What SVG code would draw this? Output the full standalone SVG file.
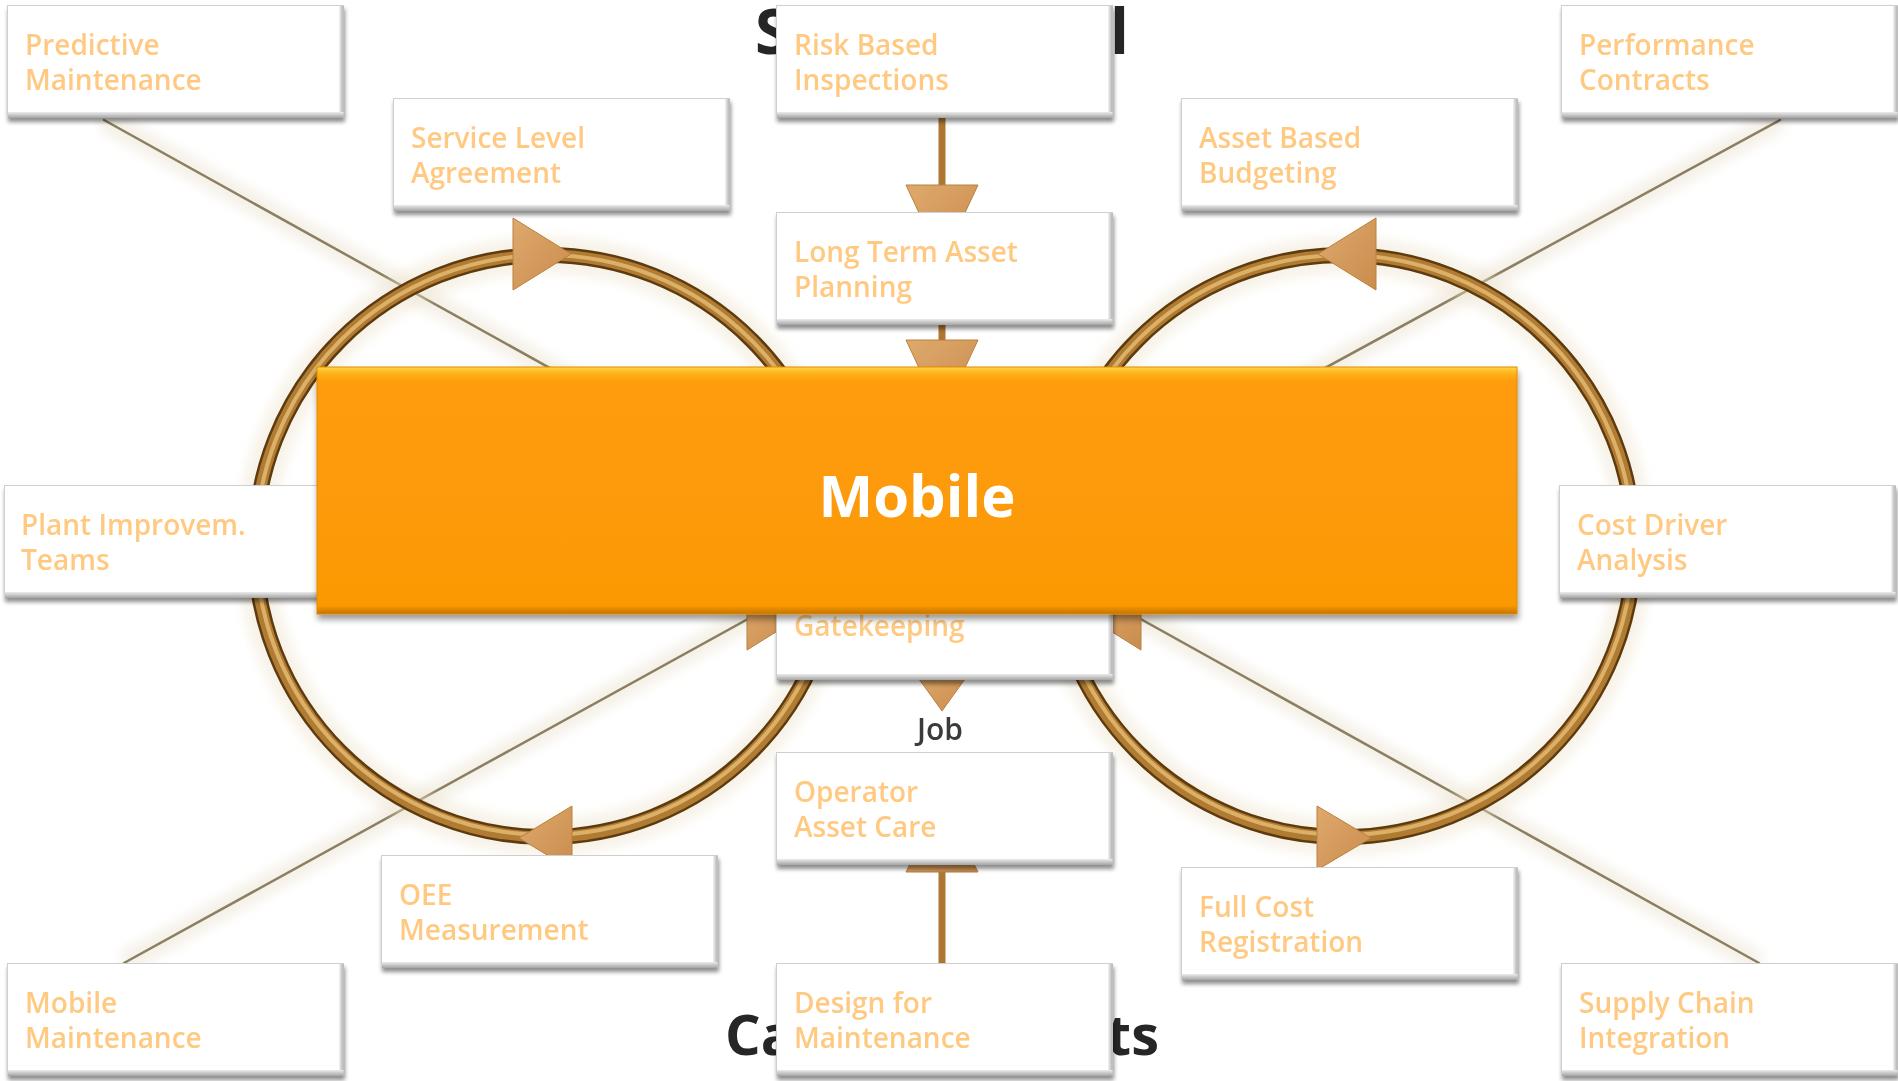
<svg xmlns="http://www.w3.org/2000/svg" width="1898" height="1081" viewBox="0 0 1898 1081">
  <defs>
    <style>
      .bg-title { font-family: "Open Sans", "DejaVu Sans", sans-serif; font-weight: 700; fill: #262626; }
      .card { fill: #ffffff; stroke: #cfcfcf; stroke-width: 1; }
      .card-foot { fill: url(#footGrad); }
      .card-side { fill: url(#sideGrad); }
      .label { font-family: "Open Sans", "DejaVu Sans", sans-serif; font-weight: 600; font-size: 28px; fill: #ffc982; }
      .diag { stroke: #8a7f5e; stroke-width: 2.5; fill: none; stroke-linecap: round; }
      .diag-haze { stroke: #ece4d2; stroke-width: 22; fill: none; opacity: 0.5; }
      .ring-glow { fill: none; stroke: #eee2cc; stroke-width: 36; opacity: 0.45; }
      .ring-outer { fill: none; stroke: #5e3b0e; stroke-width: 16; }
      .ring-mid { fill: none; stroke: #b07c34; stroke-width: 11; }
      .ring-hi { fill: none; stroke: #ddb068; stroke-width: 4; }
      .head { fill: url(#headGrad); stroke: #b9803f; stroke-width: 1; }
      .stem { stroke: #ad7732; stroke-width: 7; fill: none; }
      .job { font-family: "Open Sans", "DejaVu Sans", sans-serif; font-weight: 600; font-size: 30px; fill: #3b3b3b; }
      .hub-label { font-family: "Open Sans", "DejaVu Sans", sans-serif; font-weight: 700; font-size: 58px; fill: #ffffff; }
    </style>
    <linearGradient id="footGrad" x1="0" y1="0" x2="0" y2="1">
      <stop offset="0" stop-color="#ececec"/>
      <stop offset="1" stop-color="#a4a4a4"/>
    </linearGradient>
    <linearGradient id="sideGrad" x1="0" y1="0" x2="1" y2="0">
      <stop offset="0" stop-color="#f4f4f4"/>
      <stop offset="1" stop-color="#b0b0b0"/>
    </linearGradient>
    <linearGradient id="headGrad" x1="0" y1="0" x2="1" y2="1">
      <stop offset="0" stop-color="#dfa96d"/>
      <stop offset="1" stop-color="#c98c4d"/>
    </linearGradient>
    <linearGradient id="hubGrad" x1="0" y1="0" x2="0" y2="1">
      <stop offset="0" stop-color="#ffd848"/>
      <stop offset="0.025" stop-color="#ffb21c"/>
      <stop offset="0.06" stop-color="#fe9c08"/>
      <stop offset="0.965" stop-color="#fb9906"/>
      <stop offset="1" stop-color="#c27400"/>
    </linearGradient>
    <filter id="cardShadow" x="-5%" y="-10%" width="112%" height="130%">
      <feGaussianBlur in="SourceAlpha" stdDeviation="2"/>
      <feOffset dx="1" dy="4" result="off"/>
      <feComponentTransfer><feFuncA type="linear" slope="0.45"/></feComponentTransfer>
      <feMerge><feMergeNode/><feMergeNode in="SourceGraphic"/></feMerge>
    </filter>
    <filter id="hubShadow" x="-5%" y="-10%" width="110%" height="125%">
      <feGaussianBlur in="SourceAlpha" stdDeviation="3"/>
      <feOffset dx="1" dy="5" result="off"/>
      <feComponentTransfer><feFuncA type="linear" slope="0.4"/></feComponentTransfer>
      <feMerge><feMergeNode/><feMergeNode in="SourceGraphic"/></feMerge>
    </filter>
    <filter id="soft" x="-20%" y="-20%" width="140%" height="140%">
      <feGaussianBlur stdDeviation="6"/>
    </filter>
    <!-- white card with bevelled foot and right edge -->
    <symbol id="cardShape" viewBox="0 0 337 113" width="337" height="113" overflow="visible">
      <rect class="card" x="0.5" y="0.5" width="336" height="112"/>
      <rect class="card-side" x="332" y="1" width="4.5" height="111"/>
      <rect class="card-foot" x="1" y="107" width="335.5" height="6"/>
    </symbol>
  </defs>

  <rect width="1898" height="1081" fill="#ffffff"/>

  <!-- background headings, mostly covered by the centre column -->
  <g id="headings">
    <text class="bg-title" x="755" y="54" font-size="62">S</text>
    <text class="bg-title" x="1110" y="54" font-size="62">l</text>
    <text class="bg-title" x="725" y="1055" font-size="56">Ca</text>
    <text class="bg-title" x="1159" y="1055" font-size="56" text-anchor="end">ts</text>
  </g>

  <g id="connectors">
    <!-- diagonal spokes from the corner cards -->
    <g filter="url(#soft)">
      <path class="diag-haze" d="M104 120 L875 549 M124 963 L875 549 M1780 120 L1004 543 M1759 963 L1004 543"/>
    </g>
    <path class="diag" d="M104 120 L875 549"/>
    <path class="diag" d="M124 963 L875 549"/>
    <path class="diag" d="M1780 120 L1004 543"/>
    <path class="diag" d="M1759 963 L1004 543"/>

    <!-- the two loops -->
    <g filter="url(#soft)">
      <circle class="ring-glow" cx="546" cy="546" r="291"/>
      <circle class="ring-glow" cx="1343" cy="546" r="291"/>
    </g>
    <circle class="ring-outer" cx="546" cy="546" r="291"/>
    <circle class="ring-mid" cx="546" cy="546" r="291"/>
    <circle class="ring-hi" cx="546" cy="545" r="290"/>
    <circle class="ring-outer" cx="1343" cy="546" r="291"/>
    <circle class="ring-mid" cx="1343" cy="546" r="291"/>
    <circle class="ring-hi" cx="1343" cy="545" r="290"/>

    <!-- loop arrowheads -->
    <polygon class="head" points="513,218 513,290 571,254"/>
    <polygon class="head" points="572,806 572,870 519,838"/>
    <polygon class="head" points="1376,218 1376,290 1318,254"/>
    <polygon class="head" points="1317,806 1317,870 1371,838"/>
    <polygon class="head" points="747,585 747,650 800,617"/>
    <polygon class="head" points="1141,585 1141,650 1088,617"/>

    <!-- centre column flow -->
    <line class="stem" x1="942" y1="117" x2="942" y2="190"/>
    <polygon class="head" points="906,185 978,185 942,262"/>
    <line class="stem" x1="942" y1="325" x2="942" y2="345"/>
    <polygon class="head" points="906,340 978,340 942,417"/>
    <polygon class="head" points="914,672 970,672 942,711"/>
    <line class="stem" x1="942" y1="964" x2="942" y2="866"/>
    <polygon class="head" points="906,872 978,872 942,800"/>
  </g>

  <text class="job" x="940" y="740" text-anchor="middle">Job</text>

  <!-- cards -->
  <g id="predictive-maintenance" filter="url(#cardShadow)">
    <use href="#cardShape" x="7" y="5"/>
    <text class="label" x="25" y="55">Predictive</text>
    <text class="label" x="25" y="90">Maintenance</text>
  </g>
  <g id="service-level-agreement" filter="url(#cardShadow)">
    <use href="#cardShape" x="393" y="98"/>
    <text class="label" x="411" y="148">Service Level</text>
    <text class="label" x="411" y="183">Agreement</text>
  </g>
  <g id="risk-based-inspections" filter="url(#cardShadow)">
    <use href="#cardShape" x="776" y="5"/>
    <text class="label" x="794" y="55">Risk Based</text>
    <text class="label" x="794" y="90">Inspections</text>
  </g>
  <g id="long-term-asset-planning" filter="url(#cardShadow)">
    <use href="#cardShape" x="776" y="212"/>
    <text class="label" x="794" y="262">Long Term Asset</text>
    <text class="label" x="794" y="297">Planning</text>
  </g>
  <g id="performance-contracts" filter="url(#cardShadow)">
    <use href="#cardShape" x="1561" y="5"/>
    <text class="label" x="1579" y="55">Performance</text>
    <text class="label" x="1579" y="90">Contracts</text>
  </g>
  <g id="asset-based-budgeting" filter="url(#cardShadow)">
    <use href="#cardShape" x="1181" y="98"/>
    <text class="label" x="1199" y="148">Asset Based</text>
    <text class="label" x="1199" y="183">Budgeting</text>
  </g>
  <g id="plant-improvement-teams" filter="url(#cardShadow)">
    <use href="#cardShape" x="4" y="485"/>
    <text class="label" x="21" y="535">Plant Improvem.</text>
    <text class="label" x="21" y="570">Teams</text>
  </g>
  <g id="cost-driver-analysis" filter="url(#cardShadow)">
    <use href="#cardShape" x="1559" y="485"/>
    <text class="label" x="1577" y="535">Cost Driver</text>
    <text class="label" x="1577" y="570">Analysis</text>
  </g>
  <g id="gatekeeping" filter="url(#cardShadow)">
    <use href="#cardShape" x="776" y="567"/>
    <text class="label" x="794" y="636">Gatekeeping</text>
  </g>
  <g id="operator-asset-care" filter="url(#cardShadow)">
    <use href="#cardShape" x="776" y="752"/>
    <text class="label" x="794" y="802">Operator</text>
    <text class="label" x="794" y="837">Asset Care</text>
  </g>
  <g id="oee-measurement" filter="url(#cardShadow)">
    <use href="#cardShape" x="381" y="855"/>
    <text class="label" x="399" y="905">OEE</text>
    <text class="label" x="399" y="940">Measurement</text>
  </g>
  <g id="full-cost-registration" filter="url(#cardShadow)">
    <use href="#cardShape" x="1181" y="867"/>
    <text class="label" x="1199" y="917">Full Cost</text>
    <text class="label" x="1199" y="952">Registration</text>
  </g>
  <g id="mobile-maintenance" filter="url(#cardShadow)">
    <use href="#cardShape" x="7" y="963"/>
    <text class="label" x="25" y="1013">Mobile</text>
    <text class="label" x="25" y="1048">Maintenance</text>
  </g>
  <g id="design-for-maintenance" filter="url(#cardShadow)">
    <use href="#cardShape" x="776" y="963"/>
    <text class="label" x="794" y="1013">Design for</text>
    <text class="label" x="794" y="1048">Maintenance</text>
  </g>
  <g id="supply-chain-integration" filter="url(#cardShadow)">
    <use href="#cardShape" x="1561" y="963"/>
    <text class="label" x="1579" y="1013">Supply Chain</text>
    <text class="label" x="1579" y="1048">Integration</text>
  </g>

  <!-- central banner -->
  <g id="mobile" filter="url(#hubShadow)">
    <rect x="317" y="367" width="1200" height="247" fill="url(#hubGrad)" stroke="#e08a00" stroke-width="1"/>
    <text class="hub-label" x="917" y="517" text-anchor="middle">Mobile</text>
  </g>
</svg>
